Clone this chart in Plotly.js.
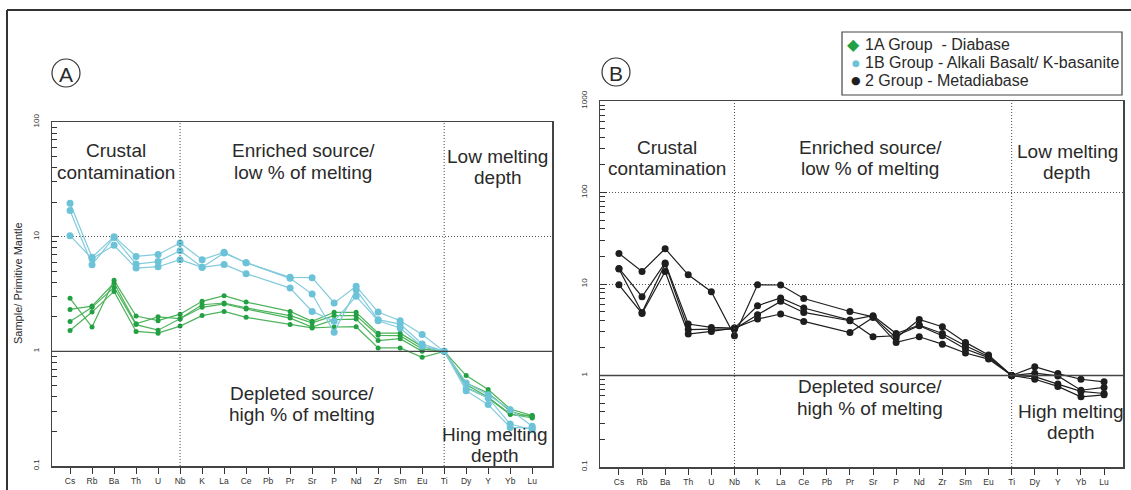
<!DOCTYPE html>
<html>
<head>
<meta charset="utf-8">
<script src="https://cdn.plot.ly/plotly-3.0.1.min.js"></script>
<style>html,body{margin:0;padding:0;background:#fff}#chart{width:1131px;height:490px}</style>
</head>
<body>
<div id="chart"></div>
<script>
// ---------- DATA ----------
const elements = ["Cs","Rb","Ba","Th","U","Nb","K","La","Ce","Pb","Pr","Sr","P","Nd","Zr","Sm","Eu","Ti","Dy","Y","Yb","Lu"];

// Panel A – 1A Group (Diabase), green
const g1 = [2.9, 1.63, 4.16, 2.03, 1.85, 2.11, 2.73, 3.06, 2.69, null, 2.23, 1.83, 2.19, 2.19, 1.44, 1.44, 1.1, 1, 0.614, 0.464, 0.314, 0.275];
const g2 = [2.32, 2.48, 3.94, 1.74, 2.0, 1.93, 2.55, 2.64, 2.39, null, 2.05, 1.77, 2.05, 2.05, 1.38, 1.37, 1.05, 1, 0.53, 0.433, 0.3, 0.266];
const g3 = [1.82, 2.42, 3.61, 1.71, 1.53, 1.91, 2.42, 2.59, 2.34, null, 1.95, 1.63, 1.89, 1.91, 1.24, 1.29, 1.0, 1, 0.513, 0.397, 0.284, 0.262];
const g4 = [1.52, 2.2, 3.33, 1.49, 1.44, 1.66, 2.05, 2.23, 1.98, null, 1.71, 1.6, 1.63, 1.64, 1.07, 1.07, 0.887, 1, 0.485, 0.392, 0.281, 0.275];

// Panel A – 1B Group (Alkali Basalt / K-basanite), cyan
const c1 = [19.6, 6.6, 10.0, 6.73, 7.0, 8.8, 6.3, 7.3, 5.93, null, 4.42, 4.39, 2.64, 3.69, 2.2, 1.85, 1.4, 1, 0.53, 0.419, 0.31, 0.222];
const c2 = [16.9, 5.7, 9.85, 5.77, 6.06, 7.55, 5.4, 7.2, 5.93, null, 4.33, 3.16, 1.47, 3.45, 1.89, 1.73, 1.16, 1, 0.478, 0.392, 0.232, 0.207];
const c3 = [10.2, 6.43, 8.4, 5.32, 5.47, 6.3, 5.4, 5.73, 4.76, null, 3.56, 2.23, 1.83, 3.02, 1.85, 1.6, 1.105, 1, 0.454, 0.343, 0.217, 0.214];

// Panel B – 2 Group (Metadiabase), black
const b1 = [21.6, 13.7, 24.3, 12.6, 8.24, 2.72, 9.8, 9.75, 6.95, null, 5.01, 4.38, 2.57, 4.1, 3.41, 2.3, 1.68, 1, 1.25, 1.05, 0.91, 0.853];
const b2 = [14.8, 7.26, 17.0, 3.65, 3.35, 3.3, 5.79, 7.03, 5.46, null, 4.04, 4.5, 2.88, 3.56, 2.88, 2.11, 1.61, 1, 1.06, 0.99, 0.69, 0.74];
const b3 = [14.6, 4.89, 16.5, 3.18, 3.22, 3.22, 4.61, 6.46, 4.89, null, 3.97, 2.65, 2.72, 3.5, 2.72, 1.95, 1.57, 1, 0.97, 0.805, 0.67, 0.636];
const b4 = [9.8, 4.77, 13.7, 2.84, 3.03, 3.3, 4.14, 4.7, 3.9, null, 2.95, 4.31, 2.3, 2.65, 2.2, 1.76, 1.51, 1, 0.91, 0.76, 0.585, 0.615];

const legendLabels = ["1A Group  - Diabase", "1B Group - Alkali Basalt/ K-basanite", "2 Group - Metadiabase"];
const yTitle = "Sample/ Primitive Mantle";

// ---------- LAYOUT HELPERS ----------
const W = 1131, H = 490;
const px = x => x / W;
const py = y => 1 - y / H;
const FONT = "Liberation Sans, Arial, sans-serif";
const rangeXA = [-0.82, 21.9], rangeXB = [-0.82, 21.82];
const rangeYA = [-1, 2], rangeYB = [-1, 3];
const fx = (i, r) => (i - r[0]) / (r[1] - r[0]);
const fy = (v, r) => (Math.log10(v) - r[0]) / (r[1] - r[0]);

const GREEN_L = "#4db35a", GREEN_M = "#23a043";
const CYAN_L = "#82cbdc", CYAN_M = "#6cc3d8";
const BLACK = "#1e1e1e";
const DOT = "1px,2px";

const traces = [];
[g1, g2, g3, g4].forEach(s => traces.push({
  x: elements, y: s, xaxis: "x", yaxis: "y", type: "scatter", mode: "lines+markers",
  connectgaps: true, line: {color: GREEN_L, width: 1.2},
  marker: {color: GREEN_M, size: 5}, showlegend: false, hoverinfo: "skip"
}));
[c1, c2, c3].forEach(s => traces.push({
  x: elements, y: s, xaxis: "x", yaxis: "y", type: "scatter", mode: "lines+markers",
  connectgaps: true, line: {color: CYAN_L, width: 1.2},
  marker: {color: CYAN_M, size: 7}, showlegend: false, hoverinfo: "skip"
}));
[b1, b2, b3, b4].forEach(s => traces.push({
  x: elements, y: s, xaxis: "x2", yaxis: "y2", type: "scatter", mode: "lines+markers",
  connectgaps: true, line: {color: BLACK, width: 1.2},
  marker: {color: BLACK, size: 7}, showlegend: false, hoverinfo: "skip"
}));

function xax(domain, range, anchor) {
  return {
    domain: domain, anchor: anchor, type: "category", categoryorder: "array", categoryarray: elements,
    range: range, showline: true, mirror: true, linecolor: "#444", linewidth: 1.5,
    ticks: "outside", ticklen: 6, tickwidth: 1, tickcolor: "#333",
    tickfont: {size: 8.5, color: "#333", family: FONT}, showgrid: false, zeroline: false, fixedrange: true
  };
}
function yax(domain, range, anchor) {
  return {
    domain: domain, anchor: anchor, type: "log", range: range, dtick: 1,
    showline: true, mirror: true, linecolor: "#444", linewidth: 1.5,
    ticks: "inside", ticklen: 7, tickwidth: 1, tickcolor: "#333", tickangle: -90,
    ticklabelstandoff: 8,
    tickfont: {size: 8, color: "#333", family: FONT},
    showgrid: true, griddash: DOT, gridcolor: "#555", gridwidth: 1, zeroline: false,
    exponentformat: "none",
    minor: {ticks: "inside", ticklen: 5, tickcolor: "#333", dtick: "D1", showgrid: false},
    fixedrange: true
  };
}

const shapes = [];
function refLines(xr, yr, xref, yref) {
  const xd = xref + " domain", yd = yref + " domain";
  const f1 = fy(1, yr);
  shapes.push({type: "line", xref: xd, yref: yd, x0: 0, x1: 1, y0: f1, y1: f1, line: {color: "#444", width: 1.3}});
  ["Nb", "Ti"].forEach(el => {
    const f = fx(elements.indexOf(el), xr);
    shapes.push({type: "line", xref: xd, yref: yd, x0: f, x1: f, y0: 0, y1: 1, line: {color: "#444", width: 1, dash: DOT}});
  });
}
refLines(rangeXA, rangeYA, "x", "y");
refLines(rangeXB, rangeYB, "x2", "y2");

// outer frame (left + top)
shapes.push({type: "line", xref: "paper", yref: "paper", x0: px(7), x1: px(7), y0: py(10), y1: py(492), line: {color: "#333", width: 2}});
shapes.push({type: "line", xref: "paper", yref: "paper", x0: px(7), x1: px(1133), y0: py(10), y1: py(10), line: {color: "#333", width: 2}});
// circled panel letters
[[66, 73], [616, 72]].forEach(c => shapes.push({
  type: "circle", xref: "paper", yref: "paper",
  x0: px(c[0] - 14), x1: px(c[0] + 14), y0: py(c[1] + 14), y1: py(c[1] - 14),
  line: {color: "#333", width: 1.2}
}));
// legend box
shapes.push({type: "rect", xref: "paper", yref: "paper", x0: px(842), x1: px(1122), y0: py(95), y1: py(32), line: {color: "#444", width: 1.2}, fillcolor: "#fff"});

const annotations = [];
function txt(t, x, y, size, opts) {
  annotations.push(Object.assign({
    text: t, xref: "paper", yref: "paper", x: px(x), y: py(y),
    xanchor: "center", yanchor: "middle", showarrow: false,
    font: {size: size, color: "#2a2a2a", family: FONT}
  }, opts || {}));
}
// Panel A region labels
txt("Crustal", 116, 151, 19); txt("contamination", 116, 172, 19);
txt("Enriched source/", 303, 151, 19); txt("low % of melting", 303, 172, 19);
txt("Low melting", 498, 156, 19); txt("depth", 498, 177, 19);
txt("Depleted source/", 302, 393, 19); txt("high % of melting", 302, 414, 19);
txt("Hing melting", 495, 434, 19); txt("depth", 495, 455, 19);
// Panel B region labels
txt("Crustal", 667, 147, 19); txt("contamination", 667, 168, 19);
txt("Enriched source/", 870, 147, 19); txt("low % of melting", 870, 168, 19);
txt("Low melting", 1067, 152, 19); txt("depth", 1067, 172, 19);
txt("Depleted source/", 870, 386, 19); txt("high % of melting", 870, 408, 19);
txt("High melting", 1071, 411, 19); txt("depth", 1071, 432, 19);
// panel letters
txt("A", 66, 74, 21);
txt("B", 616, 73, 21);
// y axis title
txt(yTitle, 18, 283, 11, {textangle: -90});
// legend
txt("◆", 853, 45, 16, {font: {size: 16, color: GREEN_M, family: "DejaVu Sans"}});
txt("●", 856, 63, 9, {font: {size: 9, color: CYAN_M, family: "DejaVu Sans"}});
txt("●", 856, 81, 11, {font: {size: 11, color: BLACK, family: "DejaVu Sans"}});
legendLabels.forEach((l, i) => txt(l, 863, [45, 63, 81][i], 16, {xanchor: "left"}));

const layout = {
  width: W, height: H, margin: {l: 0, r: 0, t: 0, b: 0},
  paper_bgcolor: "#fff", plot_bgcolor: "#fff",
  font: {family: FONT, color: "#2a2a2a"},
  showlegend: false,
  xaxis: xax([px(52), px(552)], rangeXA, "y"),
  yaxis: yax([py(466), py(122)], rangeYA, "x"),
  xaxis2: xax([px(600), px(1123)], rangeXB, "y2"),
  yaxis2: yax([py(467), py(101)], rangeYB, "x2"),
  shapes: shapes, annotations: annotations
};

Plotly.newPlot("chart", traces, layout, {staticPlot: true, displayModeBar: false});
</script>
</body>
</html>
